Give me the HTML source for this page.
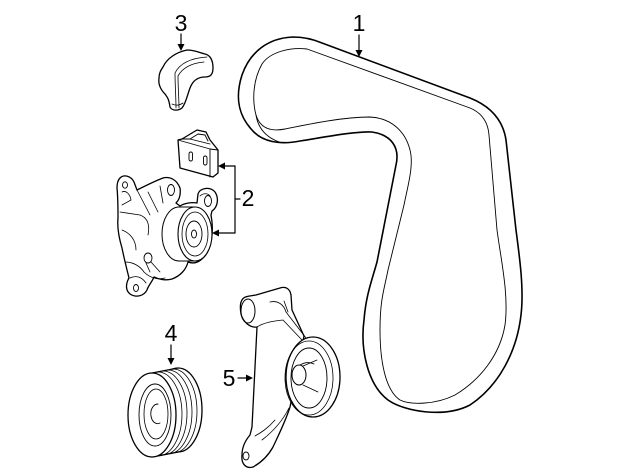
<!DOCTYPE html>
<html><head><meta charset="utf-8"><style>
html,body{margin:0;padding:0;background:#fff;}
svg{display:block;}
text{font-family:"Liberation Sans",Arial,sans-serif;font-size:23px;fill:#000;}
</style></head><body>
<svg width="640" height="471" viewBox="0 0 640 471" xmlns="http://www.w3.org/2000/svg">
<g fill="none" stroke="#000" stroke-linejoin="round" stroke-linecap="round">

<!-- BELT (1) -->
<path stroke-width="1.6" d="M293,37 C305,37 315,40 322,43 L470,98 C490,106 503,120 506,140 L516,230 C520,260 524,290 521,315 C517,350 500,385 470,405 C445,418 405,412 388,400 C368,385 360,350 364,320 C366,295 372,280 377,262 L396,165 C400,148 392,135 372,132 C355,131 320,138 300,141 C280,145 262,142 252,130 C240,117 234,100 242,75 C250,52 268,38 293,37 Z"/>
<path stroke-width="0.9" d="M307,49 L470,108 C482,113 488,122 489,135 L497,230 C501,260 509,295 505,325 C500,355 480,380 455,395 C435,405 410,405 400,400 C385,390 380,360 380,330 C380,300 384,290 388,270 L404,205 C408,185 414,165 410,150 C405,130 390,118 370,117 C340,117 300,126 285,129 C270,132 260,128 256,115 C252,100 253,80 262,64 C270,52 290,47 307,49 Z"/>
<path stroke-width="0.9" d="M256,115 C258,128 266,138 282,143"/>

<!-- PART 3 -->
<path stroke-width="1.3" fill="#fff" d="M163,67 C167,58 177,52 187,50 C195,50 200,53 205,54 C210,55 213,60 213,68 C213,75 210,77 205,77 C198,77 193,80 190,88 C187,96 186,103 182,108 C178,111 172,111 170,107 C169,100 168,98 165,94 C161,90 158,85 159,78 C159,73 161,70 163,67 Z"/>
<path stroke-width="0.8" d="M175,73 C180,63 192,58 207,57 M178,76 C183,67 193,63 204,62 M175,73 C175,85 176,97 176,108 M178,76 C178,88 179,98 179,108 M172,104 C176,106 180,105 183,103"/>

<!-- PART 2 bracket -->
<path stroke-width="1.3" fill="#fff" d="M178,140 L182,139 L197,130 L206,132 L210,140 L218,150 L218,173 L213,177 L180,168 Z"/>
<path stroke-width="0.9" d="M182,139 L190,139 L198,134 L205,135 L208,141 M178,140 L210,149 L218,150 M210,149 L210,177 M190,139 L210,144"/>
<rect x="189" y="152" width="3.5" height="9" rx="1.7" stroke-width="0.9"/>
<rect x="203.5" y="156" width="3.5" height="9" rx="1.7" stroke-width="0.9"/>

<!-- PART 2 tensioner -->
<path stroke-width="1.3" fill="#fff" d="M120,178 C124,174 131,176 134,182 L137,190 C145,186 155,181 163,178 C170,176 177,180 180,188 C181,195 179,200 176,203 L180,206 C185,203 192,202 197,203 L198,194 C200,188 210,186 215,192 C219,198 218,207 212,211 L211,215 C214,230 212,250 203,258 C198,263 193,264 188,262 C186,270 180,276 172,279 C165,281 158,279 154,277 C152,282 148,286 147,290 C144,296 136,298 130,294 C125,290 126,283 129,278 C127,270 124,258 122,248 C119,238 117,228 118,218 C118,208 118,198 117,188 C117,183 118,180 120,178 Z"/>
<path stroke-width="0.8" d="M122,192 C126,190 130,194 131,200 L122,205 M137,190 L150,215 M148,192 L158,212 M160,186 L163,203 M120,212 L140,215 C148,218 150,225 148,235 M122,230 C130,233 136,240 136,250 M125,262 C133,262 140,266 144,272 C150,278 158,280 165,278 M130,278 C136,275 142,277 146,283 M200,196 C203,193 208,193 210,196"/>
<ellipse cx="125" cy="185" rx="2.5" ry="3.2" stroke-width="0.9"/>
<ellipse cx="171" cy="190" rx="3.5" ry="5.5" stroke-width="0.9"/>
<ellipse cx="208" cy="201" rx="3.5" ry="5.5" stroke-width="0.9"/>
<ellipse cx="136" cy="288" rx="2.5" ry="3.5" stroke-width="0.9"/>
<ellipse cx="148" cy="258" rx="4" ry="5" stroke-width="0.9" fill="#fff"/>
<path stroke-width="0.8" d="M151,262 L160,272 M146,263 L150,272"/>
<ellipse cx="179" cy="234" rx="17" ry="27" stroke-width="1" fill="#fff"/>
<path stroke="none" fill="#fff" d="M179,207 L195,207 L195,261 L179,261 Z"/>
<path stroke-width="1" d="M179,207 L195,207 M179,261 L195,261"/>
<ellipse cx="195" cy="234" rx="17" ry="27" stroke-width="1.1" fill="#fff"/>
<ellipse cx="195" cy="234" rx="13" ry="22" stroke-width="0.8"/>
<ellipse cx="194" cy="234" rx="8" ry="13" stroke-width="0.9"/>
<ellipse cx="194" cy="234" rx="2.5" ry="4" stroke-width="0.9"/>

<!-- PART 4 pulley -->
<ellipse cx="178" cy="410" rx="24" ry="42" stroke-width="1.3" fill="#fff"/>
<path stroke="none" fill="#fff" d="M152,373 L178,368 L178,452 L152,457 Z"/>
<path stroke-width="1.2" d="M152,373 L178,368 M152,457 L178,452"/>
<path stroke-width="0.8" d="M158,372 A24,42 0 0 1 158,456 M163,371 A24,42 0 0 1 163,455 M168,370 A24,42 0 0 1 168,454 M173,369 A24,42 0 0 1 173,453"/>
<ellipse cx="152" cy="415" rx="24" ry="42" stroke-width="1.3" fill="#fff"/>
<ellipse cx="155" cy="415" rx="16" ry="31" stroke-width="0.9"/>
<ellipse cx="156" cy="414" rx="12" ry="25" stroke-width="0.8"/>
<path stroke-width="0.9" d="M158,404 C153,404 150,410 151,416 C152,422 156,425 160,423"/>

<!-- PART 5 bracket -->
<path stroke-width="1.3" fill="#fff" d="M242,300 C244,296 250,296 256,295 L280,288 C286,286 290,289 291,295 L292,310 L304,336 L290,407 C286,420 280,432 273,447 C268,456 262,462 253,467 C246,469 241,464 242,455 C242,448 244,442 250,435 L252,427 L257,327 C250,328 243,322 241,314 C240,308 240,303 242,300 Z"/>
<path stroke-width="0.8" d="M257,327 C265,322 275,321 283,320 L302,340 M270,302 C278,300 284,305 286,312 L306,338 M284,301 L288,312 M289,408 C283,420 275,430 262,440 M255,436 C262,432 268,428 275,420"/>
<ellipse cx="248" cy="311" rx="7" ry="12" stroke-width="1"/>
<ellipse cx="246" cy="456" rx="3" ry="4" stroke-width="0.9"/>
<ellipse cx="313" cy="377" rx="27" ry="40" stroke-width="1.3" fill="#fff"/>
<ellipse cx="309" cy="378" rx="24" ry="37" stroke-width="0.8"/>
<ellipse cx="309" cy="378" rx="18" ry="30" stroke-width="0.9"/>
<ellipse cx="299" cy="375" rx="7" ry="10" stroke-width="1" fill="#fff"/>
<path stroke-width="0.8" d="M303,366 L317,360 M303,385 L318,392 M300,365 C305,362 310,362 314,364"/>

<!-- CALLOUT LINES -->
<g stroke-width="1.2">
<line x1="359" y1="35" x2="359" y2="51"/>
<line x1="181" y1="34" x2="181" y2="45"/>
<line x1="235" y1="166" x2="235" y2="233"/>
<line x1="235" y1="166" x2="223" y2="166"/>
<line x1="235" y1="233" x2="217" y2="233"/>
<line x1="235" y1="199" x2="240" y2="199"/>
<line x1="171" y1="345" x2="171" y2="359"/>
<line x1="238" y1="378" x2="247" y2="378"/>
</g>
</g>
<g fill="#000" stroke="none">
<polygon points="355.5,50 362.5,50 359,57"/>
<polygon points="177.5,44 184.5,44 181,51"/>
<polygon points="218,166 225,162.5 225,169.5"/>
<polygon points="212,233 219,229.5 219,236.5"/>
<polygon points="167.5,358 174.5,358 171,365"/>
<polygon points="253,378 246,374.5 246,381.5"/>
</g>
<text x="359" y="31" text-anchor="middle">1</text>
<text x="181" y="31" text-anchor="middle">3</text>
<text x="248" y="206" text-anchor="middle">2</text>
<text x="171" y="341" text-anchor="middle">4</text>
<text x="229" y="386" text-anchor="middle">5</text>
</svg>
</body></html>
